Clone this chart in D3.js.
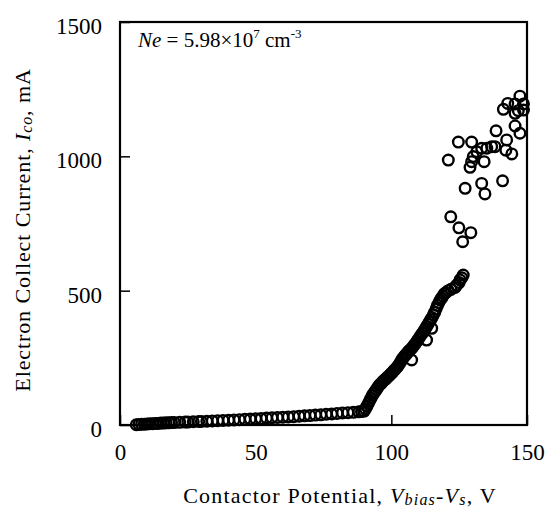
<!DOCTYPE html>
<html><head><meta charset="utf-8">
<script src="https://cdn.jsdelivr.net/npm/d3@7"></script>
<style>body{margin:0;background:#fff}svg{display:block}</style>
</head><body>
<svg id="c" width="550" height="511"></svg>
<script>
const xTicks = [0, 50, 100, 150];
const yTicks = [0, 500, 1000, 1500];

// low-bias region (V, mA)
const lowV = [6,7,8,9,10,11,12,13,14,15,16,17,18,19,20,22,24,25,27,29,30,32,34,36,38,40,42,44,46,48,50,52,54,56,58,60,62,64,66,68,70,72,74,76,78,80,82,84,86,88,89,90];
const lowI = [1,2,3,3,4,5,5,6,6,7,7,8,8,9,9,10,11,11,12,13,13,14,15,16,17,18,19,20,21,22,23,24,26,27,28,29,30,31,33,34,35,37,38,40,41,43,45,46,47,49,50,52];

// rising region
const riseV = [90.5,91,91.5,92,92.5,93,93.5,94,94.5,95,95.5,96,96.5,97,97.5,98,98.5,99,99.5,100,100.5,101,101.5,102,102.5,103,103.5,104,104.5,105,105.5,106,106.5,107,107.5,108,108.5,109,109.5,110,110.5,111,111.5,112,112.5,113,113.5,114,114.5,115,115.5,116,116.5,117,117.5,118,118.5,119,119.5,120,121,122,123.5,124,125,125.3,126,126.5,113,114.9,107.5];
const riseI = [60,70,80,90,100,110,118,125,132,140,148,152,158,163,168,172,177,182,186,192,197,203,208,214,220,228,236,245,252,258,263,270,276,280,285,292,298,305,312,320,328,336,342,350,358,366,375,383,392,400,410,420,432,445,455,465,472,480,488,492,500,505,512,520,530,540,548,558,316,360,242];

// scattered high-current region
const highV = [147.4,142.9,141.3,145.6,148.7,146.8,145.6,148.7,145.6,147.4,138.6,124.7,129.6,142.5,144.4,142.2,121,131.5,133.3,135.2,137,138.2,130.2,129.6,129,134.2,127.2,133.3,134.5,141,121.9,124.9,129.3,126.3];
const highI = [1224,1197,1175,1195,1195,1170,1160,1172,1113,1086,1095,1053,1053,1061,1009,1023,986,1017,1030,1030,1036,1036,999,980,959,980,881,899,860,909,775,734,716,682];

const data = [];
[[lowV,lowI],[riseV,riseI],[highV,highI]].forEach(([v,i]) => v.forEach((d,k) => data.push({v:d, i:i[k]})));

const svg = d3.select("#c");
const L = 120, R = 527, T = 22, B = 425;
const x = d3.scaleLinear().domain([0,150]).range([L,R]);
const y = d3.scaleLinear().domain([0,1500]).range([B,T]);
const font = "'Liberation Serif', 'Times New Roman', serif";

// points
svg.append("g").selectAll("circle").data(data).join("circle")
  .attr("cx", d => x(d.v)).attr("cy", d => y(d.i)).attr("r", 5.3)
  .attr("fill", "none").attr("stroke", "#000").attr("stroke-width", 2.4);

// axes
const gx = svg.append("g").attr("transform", `translate(0,${B})`)
  .call(d3.axisBottom(x).tickValues(xTicks).tickFormat(d3.format("d")).tickSize(-10).tickPadding(19));
const gy = svg.append("g").attr("transform", `translate(${L},0)`)
  .call(d3.axisLeft(y).tickValues(yTicks).tickFormat(d3.format("d")).tickSize(-10).tickPadding(18));
[gx, gy].forEach(g => {
  g.select(".domain").remove();
  g.selectAll(".tick line").attr("stroke", "#000").attr("stroke-width", 1.5);
  g.selectAll("text").attr("font-family", font).attr("font-size", 23).attr("fill", "#000");
});
gy.selectAll("text").attr("dy", "0.5em");

// frame
svg.append("rect").attr("x", L).attr("y", T).attr("width", R-L).attr("height", B-T)
  .attr("fill", "none").attr("stroke", "#000").attr("stroke-width", 2.2);

// annotation
const ann = svg.append("text").attr("x", 138).attr("y", 47)
  .attr("font-family", font).attr("font-size", 21).attr("fill", "#000");
ann.append("tspan").attr("font-style", "italic").text("Ne");
ann.append("tspan").text(" = 5.98×10");
ann.append("tspan").attr("font-size", 13).attr("dy", -9).text("7");
ann.append("tspan").attr("dy", 9).text(" cm");
ann.append("tspan").attr("font-size", 13).attr("dy", -9).text("-3");

// x title
const xt = svg.append("text").attr("x", 340).attr("y", 503).attr("text-anchor", "middle")
  .attr("font-family", font).attr("font-size", 22).attr("letter-spacing", 1.2).attr("fill", "#000");
xt.append("tspan").text("Contactor Potential, ");
xt.append("tspan").attr("font-style", "italic").text("V");
xt.append("tspan").attr("font-style", "italic").attr("font-size", 16).attr("dy", 2).text("bias");
xt.append("tspan").attr("font-style", "italic").attr("dy", -2).text("-V");
xt.append("tspan").attr("font-style", "italic").attr("font-size", 16).attr("dy", 2).text("s");
xt.append("tspan").attr("dy", -2).text(", V");

// y title
const yt = svg.append("text").attr("transform", "translate(30,230) rotate(-90)").attr("text-anchor", "middle")
  .attr("font-family", font).attr("font-size", 22).attr("letter-spacing", 0.9).attr("fill", "#000");
yt.append("tspan").text("Electron Collect Current, ");
yt.append("tspan").attr("font-style", "italic").text("I");
yt.append("tspan").attr("font-style", "italic").attr("font-size", 16).attr("dy", 2).text("co");
yt.append("tspan").attr("dy", -2).text(", mA");
</script>
</body></html>
